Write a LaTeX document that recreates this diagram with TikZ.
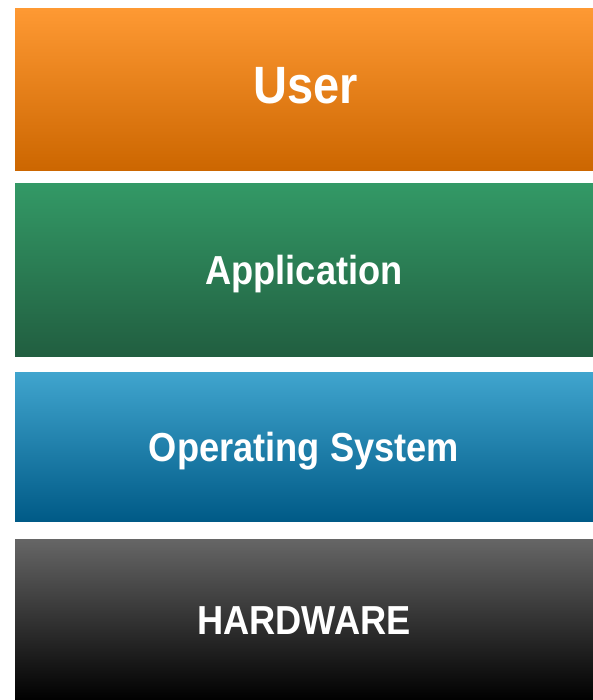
\documentclass[tikz,border=0pt]{standalone}
\usepackage{fontspec}
\newfontfamily\layerfont[FakeStretch=0.895]{Liberation Sans}

\definecolor{userTop}{RGB}{254,153,51}
\definecolor{userBot}{RGB}{204,102,0}
\definecolor{appTop}{RGB}{51,153,102}
\definecolor{appBot}{RGB}{33,94,64}
\definecolor{osTop}{RGB}{64,165,206}
\definecolor{osBot}{RGB}{0,90,135}
\definecolor{hwTop}{RGB}{102,102,102}
\definecolor{hwBot}{RGB}{0,0,0}

\tikzset{every picture/.style={line width=0.75pt}}
\tikzset{layer/.style={rectangle, minimum width=578pt, inner sep=0pt, text=white,
    text height=29pt, text depth=0pt,
    font=\layerfont\bfseries\fontsize{40.5}{40.5}\selectfont},
  bigLabel/.style={text=white, inner sep=0pt, text height=37pt, text depth=0pt,
    font=\layerfont\bfseries\fontsize{52.5}{52.5}\selectfont}}

\begin{document}
\begin{tikzpicture}[x=1pt,y=1pt,yscale=-1,xscale=1]
	\useasboundingbox (0,0) rectangle (593,700);
	
	% User
	\node [layer, minimum height=162pt, top color=userTop, bottom color=userBot] (user) at (304,90) {};
	\node [bigLabel] (userText) at (306,85.5) {User};
	% Application
	\node [layer, minimum height=173pt, top color=appTop, bottom color=appBot] (app) at (304,270) {Application};
	% Operating System
	\node [layer, minimum height=149pt, top color=osTop, bottom color=osBot] (os) at (304,446.5) {Operating System};
	% Hardware
	\node [layer, minimum height=161pt, top color=hwTop, bottom color=hwBot] (hw) at (304,619.5) {HARDWARE};
	
\end{tikzpicture}
\end{document}
